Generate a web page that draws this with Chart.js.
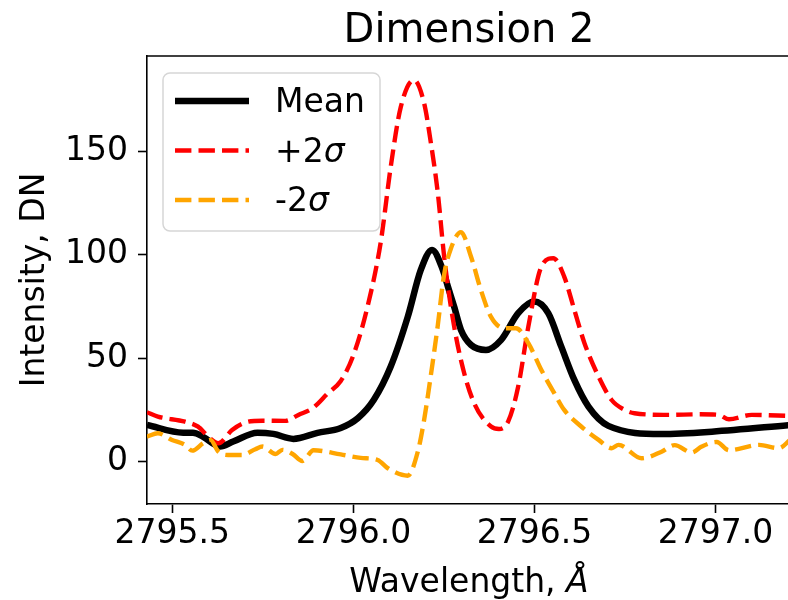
<!DOCTYPE html>
<html>
<head>
<meta charset="utf-8">
<script src="https://cdn.jsdelivr.net/npm/chart.js@4"></script>
<style>
  html, body { margin: 0; padding: 0; background: #fff; }
  #chart { display: block; }
</style>
</head>
<body>
<canvas id="chart" width="788" height="600"></canvas>
<script>
"use strict";
///////////////////////////////
//Data
const titleText = "Dimension 2";
const xTicks = [2795.5, 2796.0, 2796.5, 2797.0];
const yTicks = [0, 50, 100, 150];

// Mean
const meanWave = [2795.430, 2795.530, 2795.557, 2795.585, 2795.632, 2795.668, 2795.735, 2795.779,
  2795.834, 2795.901, 2795.965, 2796.012, 2796.056, 2796.103, 2796.150, 2796.186, 2796.217,
  2796.247, 2796.261, 2796.278, 2796.297, 2796.325, 2796.366, 2796.408, 2796.455, 2796.499,
  2796.538, 2796.574, 2796.610, 2796.649, 2796.704, 2796.851, 2796.990, 2797.206];
const meanVals = [17.7, 14, 14, 12, 7.3, 9.7, 14, 13.4, 11, 13.9, 16.3, 21, 29.8, 46, 70, 92.7, 102.4,
  92.7, 84.6, 75, 63.7, 56.4, 54, 58.9, 71.8, 77.4, 71.8, 55.6, 39.5, 26.6, 17.3, 13.4, 14.5, 17.7];

// +2 sigma
const plusWave = [2795.430, 2795.460, 2795.535, 2795.571, 2795.599, 2795.627, 2795.665, 2795.701,
  2795.749, 2795.812, 2795.848, 2795.887, 2795.929, 2795.965, 2796.001, 2796.039, 2796.075,
  2796.103, 2796.131, 2796.167, 2796.195, 2796.214, 2796.233, 2796.250, 2796.269, 2796.297,
  2796.333, 2796.380, 2796.402, 2796.427, 2796.455, 2796.483, 2796.519, 2796.552, 2796.582,
  2796.610, 2796.638, 2796.677, 2796.713, 2796.749, 2796.776, 2796.870, 2796.954, 2797.009,
  2797.037, 2797.100, 2797.206];
const plusVals = [23.9, 21.8, 19.3, 16.9, 12.1, 8.9, 15.3, 18.9, 19.8, 19.7, 22.6, 25.8, 33, 39, 52,
  75, 105.7, 142.6, 171.7, 184.6, 173.5, 154, 130, 100, 75, 49, 28.4, 17, 15.8, 19.3, 36.3, 65.3,
  94.3, 98.4, 89.5, 73.4, 57.3, 41.1, 29.8, 25, 23.4, 22.6, 22.9, 22.6, 20.5, 22.6, 22.1];

// -2 sigma
const minusWave = [2795.430, 2795.460, 2795.499, 2795.535, 2795.555, 2795.585, 2795.605, 2795.627,
  2795.654, 2795.693, 2795.729, 2795.749, 2795.785, 2795.804, 2795.832, 2795.859, 2795.890,
  2795.965, 2796.020, 2796.067, 2796.095, 2796.150, 2796.178, 2796.195, 2796.214, 2796.233,
  2796.250, 2796.269, 2796.297, 2796.325, 2796.352, 2796.380, 2796.416, 2796.449, 2796.483,
  2796.519, 2796.555, 2796.582, 2796.629, 2796.677, 2796.713, 2796.732, 2796.796, 2796.851,
  2796.887, 2796.934, 2796.962, 2797.003, 2797.037, 2797.120, 2797.175, 2797.206];
const minusVals = [12.1, 13.7, 10.5, 8.1, 5.3, 8.9, 10.5, 4.8, 3.2, 3.2, 6, 7.3, 3.7, 5.7, 3.7, 0.3,
  5.5, 3.5, 1.8, 0.8, -3.2, -6.8, 5, 20, 42, 66, 90, 103, 111, 99, 83, 70, 64.5, 64.5, 57.3, 44.3,
  33, 25, 17, 10.5, 6.5, 8.1, 1.6, 4.8, 8, 4.4, 7.3, 9.5, 5.5, 8.1, 6.5, 10.5];

//////////////////////////////
//Helpers
const FONT = "'DejaVu Sans'";
const toPoints = function (xs, ys) {
  return xs.map((x, i) => ({ x: x, y: ys[i] }));
};

const series = [
  { label: [{ t: "Mean" }], color: "#000000", width: 6.5, dash: [] },
  { label: [{ t: "+2" }, { t: "σ", it: true }], color: "#ff0000", width: 4.4, dash: [16.4, 7.1] },
  { label: [{ t: "-2" }, { t: "σ", it: true }], color: "#ffa500", width: 4.4, dash: [16.4, 7.1] },
];

// draw text made of normal / italic parts
const drawParts = function (ctx, parts, x, y, size, align) {
  let total = 0;
  parts.forEach((p) => {
    ctx.font = (p.it ? "oblique " : "") + size + "px " + FONT;
    p.w = ctx.measureText(p.t).width;
    total += p.w;
  });
  let cx = align === "center" ? x - total / 2 : x;
  ctx.textAlign = "left";
  ctx.textBaseline = "alphabetic";
  parts.forEach((p) => {
    ctx.font = (p.it ? "oblique " : "") + size + "px " + FONT;
    ctx.fillText(p.t, cx, y);
    cx += p.w;
  });
};

// title, top spine, x label, legend
const decorPlugin = {
  id: "decor",
  afterDraw(chart) {
    const ctx = chart.ctx;
    const area = chart.chartArea;
    ctx.save();
    ctx.strokeStyle = "#000";
    ctx.lineWidth = 1.6;
    ctx.beginPath();
    ctx.moveTo(area.left, area.top);
    ctx.lineTo(area.right, area.top);
    ctx.stroke();

    ctx.fillStyle = "#000";
    drawParts(ctx, [{ t: titleText }], 469, 42, 40, "center");
    drawParts(ctx, [{ t: "Wavelength, " }, { t: "Å", it: true }], 469, 592, 33, "center");

    // legend box
    const bx = 163, by = 73, bw = 217, bh = 158, r = 7;
    ctx.beginPath();
    ctx.moveTo(bx + r, by);
    ctx.arcTo(bx + bw, by, bx + bw, by + bh, r);
    ctx.arcTo(bx + bw, by + bh, bx, by + bh, r);
    ctx.arcTo(bx, by + bh, bx, by, r);
    ctx.arcTo(bx, by, bx + bw, by, r);
    ctx.closePath();
    ctx.fillStyle = "rgba(255,255,255,0.8)";
    ctx.fill();
    ctx.strokeStyle = "#d6d6d6";
    ctx.lineWidth = 1.5;
    ctx.stroke();

    series.forEach((s, i) => {
      const rowY = 101 + i * 49.5;
      ctx.strokeStyle = s.color;
      ctx.lineWidth = s.width;
      ctx.setLineDash(s.dash);
      ctx.beginPath();
      ctx.moveTo(175, rowY);
      ctx.lineTo(249, rowY);
      ctx.stroke();
      ctx.setLineDash([]);
      ctx.fillStyle = "#000";
      drawParts(ctx, s.label, 275, rowY + 11, 33, "left");
    });
    ctx.restore();
  },
};

//////////////////////////
//Chart
const makeSet = function (s, xs, ys, order) {
  return {
    data: toPoints(xs, ys),
    borderColor: s.color,
    borderWidth: s.width,
    borderDash: s.dash,
    borderJoinStyle: "round",
    cubicInterpolationMode: "monotone",
    pointRadius: 0,
    fill: false,
    order: order,
  };
};

new Chart(document.getElementById("chart"), {
  type: "line",
  data: {
    datasets: [
      makeSet(series[0], meanWave, meanVals, 3),
      makeSet(series[1], plusWave, plusVals, 2),
      makeSet(series[2], minusWave, minusVals, 1),
    ],
  },
  options: {
    responsive: false,
    animation: false,
    devicePixelRatio: 1,
    layout: { padding: { top: 56, left: 0, right: 0, bottom: 0 } },
    plugins: { legend: { display: false }, tooltip: { enabled: false } },
    scales: {
      x: {
        type: "linear",
        min: 2795.43,
        max: 2797.2,
        afterFit: function (scale) {
          scale.height = 96;
        },
        afterBuildTicks: function (scale) {
          scale.ticks = xTicks.map((v) => ({ value: v }));
        },
        border: { color: "#000", width: 1.6 },
        grid: { drawOnChartArea: false, tickLength: 9, tickColor: "#000", tickWidth: 1.6 },
        ticks: {
          autoSkip: false,
          maxRotation: 0,
          padding: 2,
          color: "#000",
          font: { family: FONT, size: 33 },
          callback: (v) => v.toFixed(1),
        },
      },
      y: {
        min: -20.5,
        max: 196.2,
        afterFit: function (scale) {
          scale.width = 147;
        },
        afterBuildTicks: function (scale) {
          scale.ticks = yTicks.map((v) => ({ value: v }));
        },
        border: { color: "#000", width: 1.6 },
        grid: { drawOnChartArea: false, tickLength: 9, tickColor: "#000", tickWidth: 1.6 },
        ticks: {
          autoSkip: false,
          padding: 10,
          color: "#000",
          font: { family: FONT, size: 33 },
        },
        title: {
          display: true,
          text: "Intensity, DN",
          color: "#000",
          font: { family: FONT, size: 33 },
          padding: { top: 16, bottom: 0 },
        },
      },
    },
  },
  plugins: [decorPlugin],
});
</script>
</body>
</html>
